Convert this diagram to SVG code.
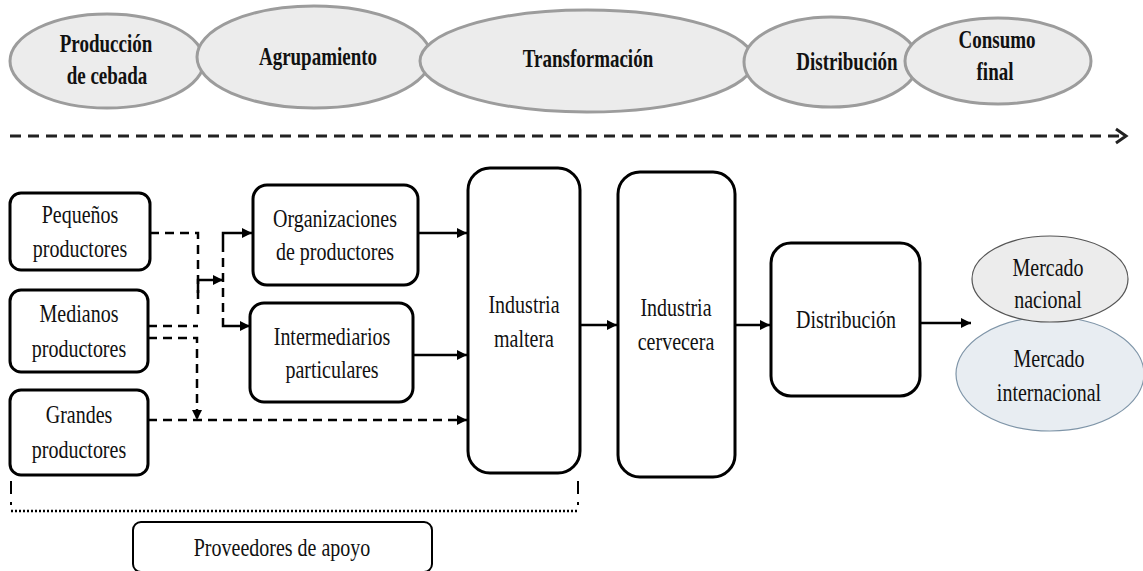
<svg xmlns="http://www.w3.org/2000/svg" width="1143" height="571" viewBox="0 0 1143 571">
<style>
.stage{fill:#ececec;stroke:#9c9c9c;stroke-width:3}
.st{font-family:"Liberation Serif","Times New Roman",serif;font-weight:bold;font-size:19px;fill:#111;text-anchor:middle}
.box{fill:#fff;stroke:#000;stroke-width:3}
.lbl{font-family:"Liberation Serif","Times New Roman",serif;font-size:20px;fill:#111;text-anchor:middle}
.sol{fill:none;stroke:#000;stroke-width:2.5}
.dsh{fill:none;stroke:#000;stroke-width:2.5;stroke-dasharray:9 6}
</style>
<defs>
<marker id="ah" markerUnits="userSpaceOnUse" markerWidth="11" markerHeight="11" refX="10" refY="5" orient="auto">
<path d="M0,0 L10,5 L0,10 z" fill="#000"/>
</marker>
</defs>
<g id="stages">
<g id="s1"><ellipse class="stage" cx="107" cy="61" rx="97" ry="47"/><text class="st" transform="translate(106,52) scale(1,1.3)">Producción</text><text class="st" transform="translate(107,84) scale(1,1.3)">de cebada</text></g>
<g id="s2"><ellipse class="stage" cx="314" cy="57" rx="117" ry="51"/><text class="st" transform="translate(318,65) scale(1,1.3)">Agrupamiento</text></g>
<g id="s3"><ellipse class="stage" cx="587" cy="61" rx="167" ry="51"/><text class="st" transform="translate(588,67) scale(1,1.3)">Transformación</text></g>
<g id="s4"><ellipse class="stage" cx="831" cy="62" rx="87" ry="45"/><text class="st" transform="translate(847,70) scale(1,1.3)">Distribución</text></g>
<g id="s5"><ellipse class="stage" cx="998" cy="61" rx="93" ry="43"/><text class="st" transform="translate(997,48) scale(1,1.3)">Consumo</text><text class="st" transform="translate(995,80) scale(1,1.3)">final</text></g>
</g>
<g id="timeline">
<path d="M10,136 H1120" fill="none" stroke="#222" stroke-width="3" stroke-dasharray="11 7"/>
<path d="M1116,129 L1126,136 L1116,143" fill="none" stroke="#222" stroke-width="3"/>
</g>
<g id="pequenos"><rect class="box" x="10" y="193" width="140" height="77" rx="11"/><text class="lbl" transform="translate(80,223) scale(1,1.25)">Pequeños</text><text class="lbl" transform="translate(80,257) scale(1,1.25)">productores</text></g>
<g id="medianos"><rect class="box" x="10" y="290" width="138" height="82" rx="11"/><text class="lbl" transform="translate(79,322) scale(1,1.25)">Medianos</text><text class="lbl" transform="translate(79,357) scale(1,1.25)">productores</text></g>
<g id="grandes"><rect class="box" x="10" y="390" width="138" height="85" rx="11"/><text class="lbl" transform="translate(79,423) scale(1,1.25)">Grandes</text><text class="lbl" transform="translate(79,458) scale(1,1.25)">productores</text></g>
<g id="organizaciones"><rect class="box" x="253" y="185" width="165" height="100" rx="14"/><text class="lbl" transform="translate(335,227) scale(1,1.25)">Organizaciones</text><text class="lbl" transform="translate(335,260) scale(1,1.25)">de productores</text></g>
<g id="intermediarios"><rect class="box" x="250" y="303" width="163" height="99" rx="14"/><text class="lbl" transform="translate(332,345) scale(1,1.25)">Intermediarios</text><text class="lbl" transform="translate(332,378) scale(1,1.25)">particulares</text></g>
<g id="maltera"><rect class="box" x="468" y="168" width="112" height="305" rx="22"/><text class="lbl" transform="translate(524,313) scale(1,1.25)">Industria</text><text class="lbl" transform="translate(524,347) scale(1,1.25)">maltera</text></g>
<g id="cervecera"><rect class="box" x="618" y="172" width="117" height="305" rx="22"/><text class="lbl" transform="translate(676,316) scale(1,1.25)">Industria</text><text class="lbl" transform="translate(676,350) scale(1,1.25)">cervecera</text></g>
<g id="distribucion"><rect class="box" x="771" y="243" width="149" height="153" rx="20"/><text class="lbl" transform="translate(846,328) scale(1,1.25)">Distribución</text></g>
<g id="internacional"><ellipse cx="1050" cy="374" rx="94" ry="57" fill="#e8edf2" stroke="#7f95a8" stroke-width="1.2"/><text class="lbl" transform="translate(1049,367) scale(1,1.25)">Mercado</text><text class="lbl" transform="translate(1049,401) scale(1,1.25)">internacional</text></g>
<g id="nacional"><ellipse cx="1050" cy="279" rx="78" ry="43" fill="#ececec" stroke="#555" stroke-width="1.2"/><text class="lbl" transform="translate(1048,276) scale(1,1.25)">Mercado</text><text class="lbl" transform="translate(1048,308) scale(1,1.25)">nacional</text></g>
<g id="proveedores"><rect x="133" y="522" width="299" height="50" rx="8" fill="#fff" stroke="#000" stroke-width="2"/><text class="lbl" transform="translate(282,556) scale(1,1.25)">Proveedores de apoyo</text></g>
<g id="connectors">
<path class="dsh" d="M150,233 H198 V320"/>
<path class="dsh" d="M148,326 H198"/>
<path class="sol" d="M198,293 V280 H223" marker-end="url(#ah)"/>
<path class="dsh" d="M223,243 V318"/>
<path class="sol" d="M223,243 V233 H252" marker-end="url(#ah)"/>
<path class="sol" d="M223,318 V326 H250" marker-end="url(#ah)"/>
<path class="dsh" d="M148,338 H197 V420" marker-end="url(#ah)"/>
<path class="dsh" d="M148,420 H467" marker-end="url(#ah)"/>
<path class="sol" d="M418,233 H467" marker-end="url(#ah)"/>
<path class="sol" d="M413,355 H467" marker-end="url(#ah)"/>
<path class="sol" d="M580,325 H617" marker-end="url(#ah)"/>
<path class="sol" d="M735,325 H770" marker-end="url(#ah)"/>
<path class="sol" d="M920,323 H971" marker-end="url(#ah)"/>
<path d="M11,481 V494 M578,481 V494" fill="none" stroke="#000" stroke-width="2"/>
<path d="M11,502 V505 M578,502 V505" fill="none" stroke="#000" stroke-width="2"/>
<path d="M11,511 H578" fill="none" stroke="#000" stroke-width="2.5" stroke-dasharray="2 2"/>
</g>
</svg>
